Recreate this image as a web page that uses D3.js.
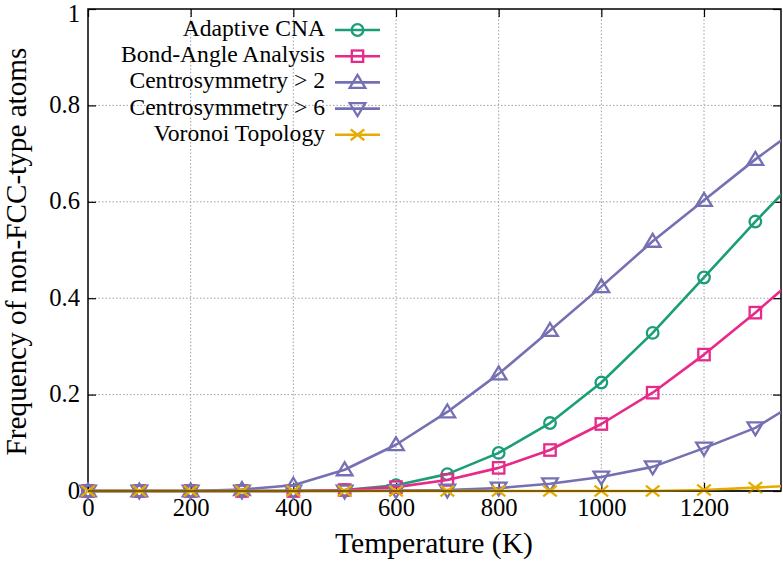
<!DOCTYPE html>
<html><head><meta charset="utf-8">
<script src="https://cdn.jsdelivr.net/npm/d3@7"></script>
<style>
body{margin:0;background:#fff;}
</style></head>
<body><svg id="c" width="783" height="563"></svg>
<script>
const temperatures = [0,100,200,300,400,500,600,700,800,900,1000,1100,1200,1300,1400];
const adaptiveCNA   = [0,0,0,0,0,0.002,0.012,0.035,0.079,0.141,0.225,0.328,0.443,0.559,0.670];
const bondAngle     = [0,0,0,0,0,0.002,0.008,0.023,0.048,0.085,0.139,0.204,0.283,0.370,0.462];
const centro2       = [0,0,0,0.003,0.012,0.044,0.096,0.164,0.243,0.333,0.424,0.518,0.603,0.688,0.766];
const centro6       = [0,0,0,0,0,0,0.001,0.002,0.006,0.015,0.029,0.050,0.089,0.131,0.197];
const voronoi       = [0,0,0,0,0,0,0,0,0,0,0,0,0.002,0.007,0.013];
const seriesNames   = ["Adaptive CNA","Bond-Angle Analysis","Centrosymmetry > 2","Centrosymmetry > 6","Voronoi Topology"];
const seriesColors  = ["#1b9e77","#e7298a","#7570b3","#7570b3","#e6ab02"];
const seriesMarkers = ["circle","square","triUp","triDown","cross"];
const xTicks = [0,200,400,600,800,1000,1200];
const yTicks = [0,0.2,0.4,0.6,0.8,1];
const xLabel = "Temperature (K)";
const yLabel = "Frequency of non-FCC-type atoms";

const FONT = "'Liberation Serif', 'DejaVu Serif', 'Noto Serif', 'Times New Roman', Times, serif";
const seriesValues = [adaptiveCNA,bondAngle,centro2,centro6,voronoi];
const svg = d3.select("#c").style("font-family",FONT);
const L=88,R=781,T=9,B=491;
const x = d3.scaleLinear().domain([0,1350]).range([L,R]);
const y = d3.scaleLinear().domain([0,1]).range([B,T]);

function fitSize(str,target){
  const t = svg.append("text").style("font-family",FONT).attr("font-size",20).text(str);
  const w = t.node().getComputedTextLength(); t.remove();
  return 20*target/w;
}
const tickFS = fitSize("600",37);
const legFS = fitSize("Bond-Angle Analysis",204);
const xLabFS = fitSize(xLabel,198);
const yLabFS = fitSize(yLabel,408);

svg.append("defs").append("clipPath").attr("id","clip")
  .append("rect").attr("x",L-10).attr("y",T-10).attr("width",R-L+10).attr("height",B-T+20);

// grid
const g = svg.append("g");
g.selectAll(".gx").data(xTicks.filter(d=>d>0)).join("line")
  .attr("x1",d=>x(d)).attr("x2",d=>x(d)).attr("y1",T).attr("y2",B)
  .attr("stroke","#a0a0a0").attr("stroke-width",1).attr("stroke-dasharray","1.5,2");
g.selectAll(".gy").data(yTicks.filter(d=>d>0&&d<1)).join("line")
  .attr("y1",d=>y(d)).attr("y2",d=>y(d)).attr("x1",L).attr("x2",R)
  .attr("stroke","#a0a0a0").attr("stroke-width",1).attr("stroke-dasharray","1.5,2");

// axes
const fmtY = d=> d===0?"0":(d===1?"1":d3.format(".1f")(d));
const ax = svg.append("g").attr("transform",`translate(0,${B})`)
  .call(d3.axisBottom(x).tickValues(xTicks).tickSize(-8).tickPadding(0).tickFormat(d3.format("d")));
const axT = svg.append("g").attr("transform",`translate(0,${T})`)
  .call(d3.axisTop(x).tickValues(xTicks).tickSize(-8).tickFormat(""));
const ay = svg.append("g").attr("transform",`translate(${L},0)`)
  .call(d3.axisLeft(y).tickValues(yTicks).tickSize(-8).tickPadding(8).tickFormat(fmtY));
const ayR = svg.append("g").attr("transform",`translate(${R},0)`)
  .call(d3.axisRight(y).tickValues(yTicks).tickSize(-8).tickFormat(""));
[ax,axT,ay,ayR].forEach(a=>{a.attr("font-family",null);a.select(".domain").remove();a.selectAll(".tick line").attr("stroke","#000").attr("stroke-width",1.2);});
ax.selectAll("text").style("font-family",FONT).attr("font-size",tickFS).attr("fill","#000").attr("y",25).attr("dy",null);
ay.selectAll("text").style("font-family",FONT).attr("font-size",tickFS).attr("fill","#000").attr("x",-8).attr("dy",null)
  .attr("y",d=>d===1?12:7);

// frame
svg.append("rect").attr("x",L).attr("y",T).attr("width",R-L).attr("height",B-T)
  .attr("fill","none").attr("stroke","#000").attr("stroke-width",1.5);

function marker(sel,type,color){
  const s=6.8;
  if(type==="circle") sel.append("circle").attr("r",5.8);
  else if(type==="square") sel.append("rect").attr("x",-5.7).attr("y",-5.7).attr("width",11.4).attr("height",11.4);
  else if(type==="triUp") sel.append("path").attr("d",`M0,${-s*1.1}L${s*1.15},${s*0.8}L${-s*1.15},${s*0.8}Z`);
  else if(type==="triDown") sel.append("path").attr("d",`M0,${s*1.1}L${s*1.15},${-s*0.8}L${-s*1.15},${-s*0.8}Z`);
  else if(type==="cross") sel.append("path").attr("d",`M${-s},${-s*0.8}L${s},${s*0.8}M${-s},${s*0.8}L${s},${-s*0.8}`);
  sel.selectAll("*").attr("fill","none").attr("stroke",color).attr("stroke-width",2.3);
}

const plot = svg.append("g").attr("clip-path","url(#clip)");
const line = d3.line().x((d,i)=>x(temperatures[i])).y(d=>y(d));
seriesValues.forEach((vals,k)=>{
  const gs = plot.append("g");
  gs.append("path").datum(vals).attr("d",line).attr("fill","none")
    .attr("stroke",seriesColors[k]).attr("stroke-width",2.6).attr("stroke-linejoin","round");
  vals.forEach((v,i)=>{
    if(temperatures[i]>1350) return;
    const m = gs.append("g").attr("transform",`translate(${x(temperatures[i])},${y(v)})`);
    marker(m,seriesMarkers[k],seriesColors[k]);
  });
});
svg.append("line").attr("x1",L).attr("x2",R).attr("y1",B).attr("y2",B).attr("stroke","#000").attr("stroke-width",1.5).attr("opacity",0.6);

// legend
const lg = svg.append("g");
seriesNames.forEach((n,k)=>{
  const yy = 30 + k*26.2;
  lg.append("text").style("font-family",FONT).attr("x",325).attr("y",yy+6).attr("text-anchor","end")
    .attr("font-size",legFS).text(n);
  lg.append("line").attr("x1",335).attr("x2",380).attr("y1",yy).attr("y2",yy)
    .attr("stroke",seriesColors[k]).attr("stroke-width",2.6);
  const m = lg.append("g").attr("transform",`translate(357.5,${yy})`);
  marker(m,seriesMarkers[k],seriesColors[k]);
});

// axis labels
svg.append("text").style("font-family",FONT).attr("x",434).attr("y",553).attr("text-anchor","middle").attr("font-size",xLabFS).text(xLabel);
svg.append("text").style("font-family",FONT).attr("transform","translate(26,251.5) rotate(-90)").attr("text-anchor","middle")
  .attr("font-size",yLabFS).text(yLabel);
</script></body></html>
